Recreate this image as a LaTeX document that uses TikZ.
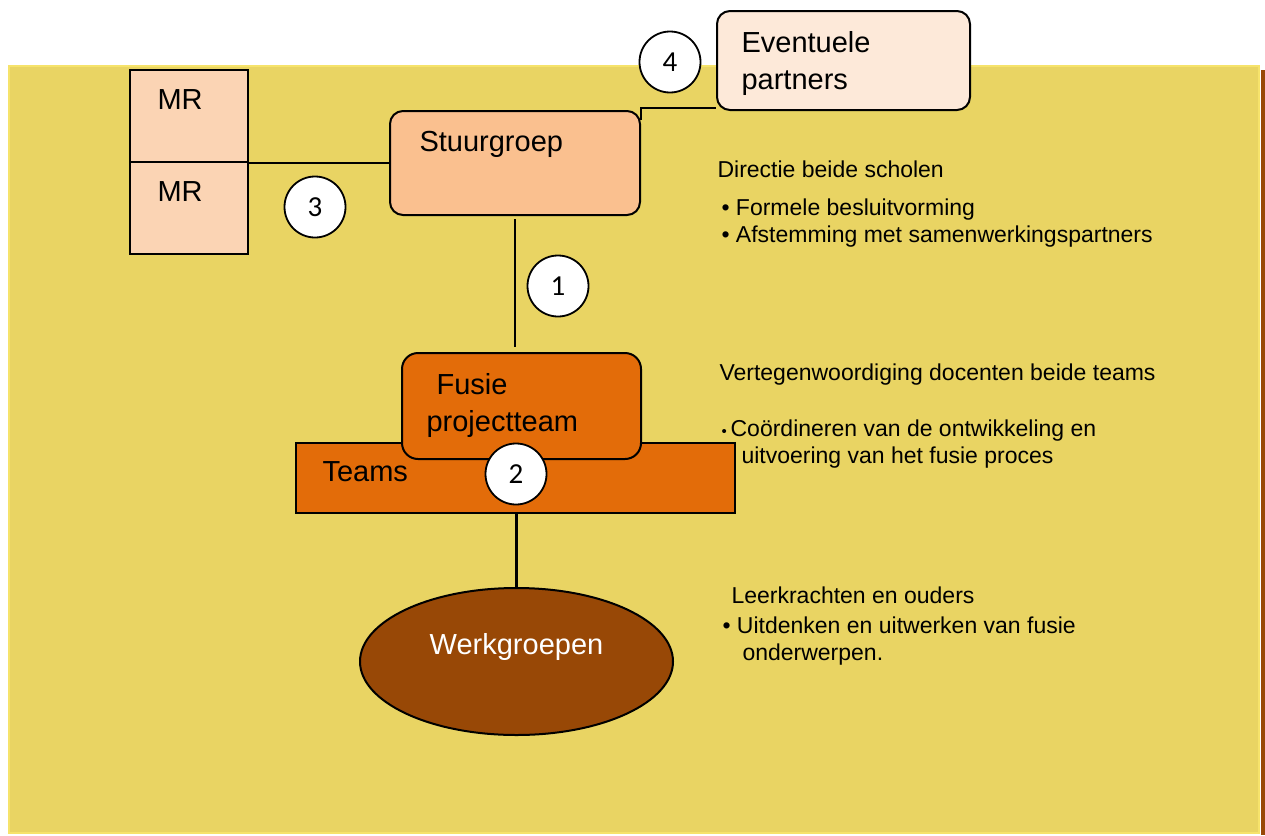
\documentclass[tikz,border=0pt]{standalone}
\usepackage{fontspec}
\setmainfont{Liberation Sans}
\newfontfamily\carlito{Carlito}
\usetikzlibrary{shapes.geometric,positioning}

\definecolor{bgyellow}{HTML}{E9D463}
\definecolor{rimyellow}{HTML}{F6E36B}
\definecolor{darkbrown}{HTML}{984806}
\definecolor{mrpeach}{HTML}{FBD4B4}
\definecolor{stuurpeach}{HTML}{FAC08F}
\definecolor{partnerpink}{HTML}{FDE9D9}
\definecolor{teamorange}{HTML}{E36C09}

\begin{document}
\begin{tikzpicture}[x=1pt,y=-1pt,
 box/.style={draw,line width=2pt,inner sep=0pt},
 roundbox/.style={box,rounded corners=13pt},
 boxlabel/.style={font=\fontsize{29}{37}\selectfont,align=left,anchor=base west},
 num/.style={circle,draw,line width=1.8pt,fill=white,minimum size=61pt,inner sep=0pt,font=\carlito\fontsize{29}{29}\selectfont},
 note/.style={font=\fontsize{23}{27}\selectfont,align=left,anchor=base west},
 link/.style={line width=2.2pt}]
\useasboundingbox (0,0) rectangle (1265,835);
% background panel
\filldraw[fill=bgyellow,draw=rimyellow,line width=2.5pt] (9,66) rectangle (1259,833);
\fill[darkbrown] (1261,70) rectangle (1265,835);

% medezeggenschapsraden
\node[box,fill=mrpeach,minimum width=118pt,minimum height=92pt,
 label={[boxlabel,xshift=25pt,yshift=-40pt]north west:MR}] (mrtop) at (189,116) {};
\node[box,fill=mrpeach,minimum width=118pt,minimum height=92pt,
 label={[boxlabel,xshift=25pt,yshift=-40pt]north west:MR}] (mrbottom) at (189,208) {};

\node[roundbox,fill=stuurpeach,minimum width=250pt,minimum height=104pt,
 label={[boxlabel,xshift=27pt,yshift=-41pt]north west:Stuurgroep}] (stuur) at (515,163) {};
\node[roundbox,fill=partnerpink,minimum width=253pt,minimum height=99pt,
 label={[boxlabel,xshift=22pt,yshift=-79pt]north west:Eventuele\\partners}] (partners) at (843.5,60.5) {};

\node[box,fill=teamorange,minimum width=439pt,minimum height=70pt,
 label={[boxlabel,xshift=24pt,yshift=-39pt]north west:Teams}] (teams) at (515.5,478) {};
\node[roundbox,rounded corners=16pt,fill=teamorange,minimum width=239pt,minimum height=106pt,
 label={[boxlabel,xshift=22pt,yshift=-79pt]north west:\hspace*{10pt}Fusie\\projectteam}] (fusie) at (521.5,406) {};

\node[ellipse,box,fill=darkbrown,minimum width=313pt,minimum height=147pt,
 label={[boxlabel,anchor=base,text=white,yshift=15pt]center:Werkgroepen}] (werk) at (516.5,661.5) {};

% verbindingen
\draw[link] (mrtop.south east) -- (stuur.west);
\draw[link] ([yshift=-10pt]stuur.north east) |- ([yshift=3pt]partners.south west);
\draw[link,shorten <=3pt,shorten >=5pt] (stuur.south) -- (stuur.south |- fusie.north);
\draw[link] (werk.north |- teams.south) -- (werk.north);

\node[num] (n1) at (558,286) {1};
\node[num] (n2) at (516,474) {2};
\node[num] (n3) at (315,207) {3};
\node[num] (n4) at (670,62) {4};

% toelichting rechts
\node[note] (directie) at (714,242) {Directie beide scholen\\[11pt]
 \hspace*{4pt}• Formele besluitvorming\\
 \hspace*{4pt}• Afstemming met samenwerkingspartners};
\node[note] (vertegenw) at (716,463) {Vertegenwoordiging docenten beide teams\\[29pt]
 \hspace*{2pt}{\fontsize{15}{15}\selectfont•}\,Coördineren van de ontwikkeling en\\
 \hspace*{22pt}uitvoering van het fusie proces};
\node[note] (leerkr) at (719,660) {\hspace*{9pt}Leerkrachten en ouders\\[3pt]
 • Uitdenken en uitwerken van fusie\\
 \hspace*{20pt}onderwerpen.};
\end{tikzpicture}
\end{document}
